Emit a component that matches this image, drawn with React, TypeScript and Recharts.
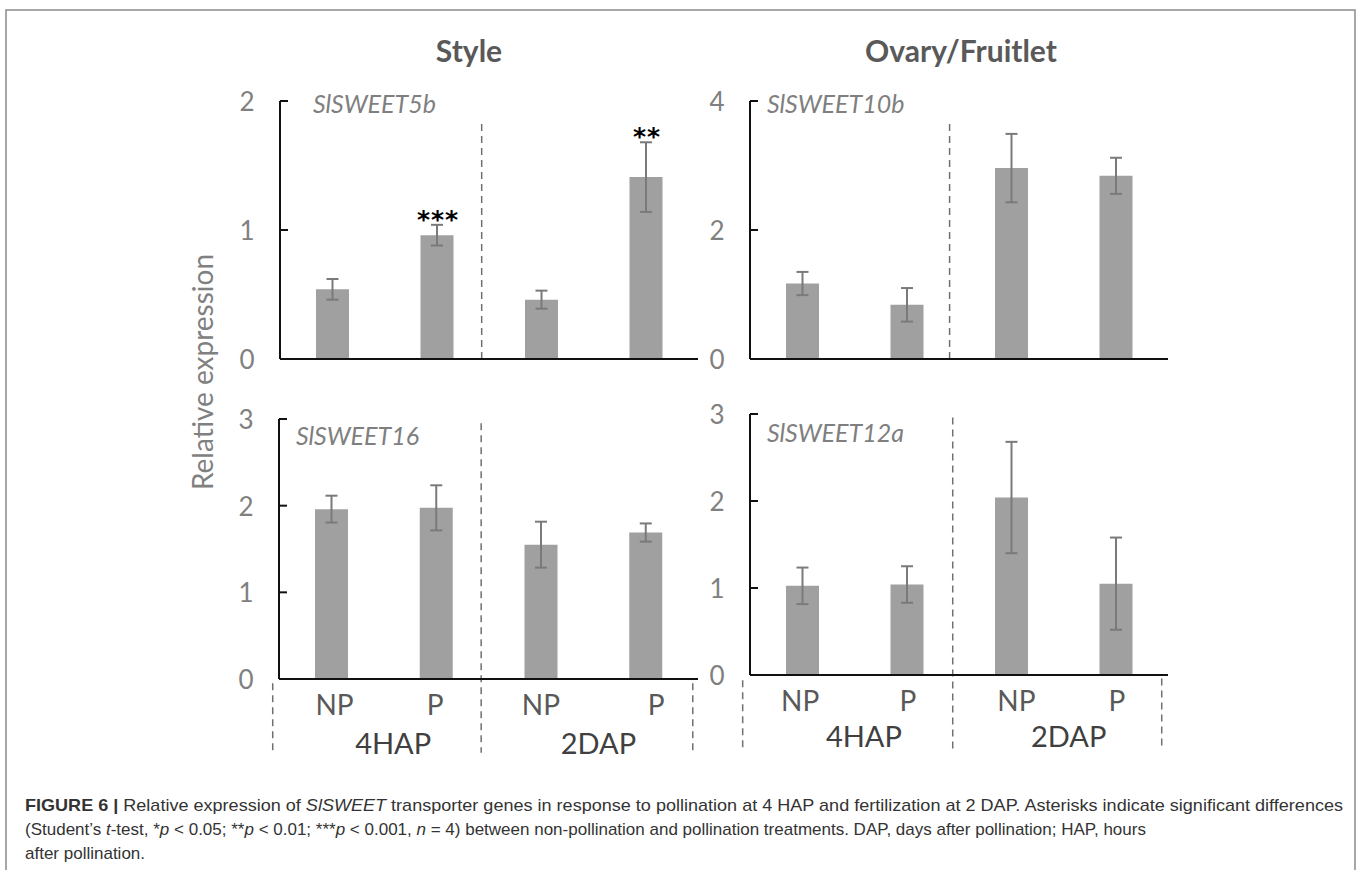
import React from "react";
import {
  Bar,
  BarChart,
  ErrorBar,
  LabelList,
  ReferenceDot,
  ReferenceLine,
  XAxis,
  YAxis,
} from "recharts";

// categorias (NP = não polinizado, P = polinizado)
const categories = ["NP", "P", "NP", "P"];
const groups = ["4HAP", "2DAP"];
const barPos = [0.5, 1.5, 2.5, 3.5];

// Style
const sweet5bMean = [0.54, 0.96, 0.46, 1.41];
const sweet5bErr = [0.08, 0.08, 0.07, 0.27];
const sweet5bSig = ["", "***", "", "**"];
const sweet16Mean = [1.96, 1.975, 1.55, 1.69];
const sweet16Err = [0.155, 0.26, 0.265, 0.105];

// Ovary/Fruitlet
const sweet10bMean = [1.17, 0.84, 2.96, 2.84];
const sweet10bErr = [0.18, 0.26, 0.53, 0.28];
const sweet12aMean = [1.025, 1.04, 2.04, 1.05];
const sweet12aErr = [0.21, 0.21, 0.64, 0.53];

const FONT = "Lato, 'Open Sans', sans-serif";
const AXIS = { stroke: "#111", strokeWidth: 2 };
const DASH = { stroke: "#707070", strokeWidth: 1.5, strokeDasharray: "7 5" };

const YTick = (props: any) => {
  const { x, y, payload } = props;
  return (
    <g>
      <line x1={x} x2={x + 8} y1={y} y2={y} stroke="#111" strokeWidth={2} />
      <text
        x={x - 33}
        y={y}
        textAnchor="middle"
        dominantBaseline="central"
        fontSize={26}
        fill="#808080"
        fontFamily={FONT}
      >
        {payload.value}
      </text>
    </g>
  );
};

interface PanelCfg {
  left: number;
  top: number;
  width: number;
  height: number;
  marginTop: number;
  yMax: number;
  yTicks: number[];
  mean: number[];
  err: number[];
  sig?: string[];
  seps: { x: number; y0: number; y1: number }[];
  labelPos?: number[];
  groupPos?: number[];
  groupY?: number;
}

const Panel = ({ cfg }: { cfg: PanelCfg }) => {
  const rows = barPos.map((x, i) => ({
    x,
    mean: cfg.mean[i],
    err: cfg.err[i],
    sig: cfg.sig ? cfg.sig[i] : "",
  }));
  const bottom = !!cfg.labelPos;

  // asteriscos logo acima da barra de erro
  const sigLabel = (p: any) => {
    const { x, y, width, height, value, index } = p;
    if (!value) return null;
    const ppu = Number(height) / rows[index].mean;
    const top = Number(y) - rows[index].err * ppu;
    return (
      <text
        x={Number(x) + Number(width) / 2 + 1}
        y={top + 3}
        textAnchor="middle"
        fontSize={25}
        fontWeight="bold"
        letterSpacing={1}
        fontFamily="'DejaVu Sans', sans-serif"
        fill="#000"
      >
        {value}
      </text>
    );
  };

  return (
    <div style={{ position: "absolute", left: cfg.left, top: cfg.top }}>
      <BarChart
        width={cfg.width}
        height={cfg.height}
        data={rows}
        margin={{ top: cfg.marginTop, right: 12, bottom: bottom ? 0 : 20, left: 0 }}
      >
        <XAxis
          dataKey="x"
          type="number"
          domain={[0, 4]}
          ticks={bottom ? cfg.labelPos : barPos}
          interval={0}
          tickFormatter={(v: number, i: number) => categories[i]}
          tick={bottom ? { fontSize: 28, fill: "#595959", fontFamily: FONT } : false}
          tickLine={false}
          tickSize={0}
          tickMargin={16}
          height={bottom ? 80 : 1}
          axisLine={AXIS}
        />
        <YAxis
          type="number"
          domain={[0, cfg.yMax]}
          ticks={cfg.yTicks}
          interval={0}
          width={80}
          tickLine={false}
          tickSize={0}
          tickMargin={0}
          axisLine={AXIS}
          tick={(p: any) => <YTick {...p} />}
        />
        {cfg.seps.map((s, i) => (
          <ReferenceLine
            key={`sep-${i}`}
            segment={[
              { x: s.x, y: s.y0 },
              { x: s.x, y: s.y1 },
            ]}
            ifOverflow="visible"
            {...DASH}
          />
        ))}
        {bottom &&
          cfg.groupPos!.map((gx, i) => (
            <ReferenceDot
              key={`grp-${i}`}
              x={gx}
              y={cfg.groupY}
              r={0}
              ifOverflow="visible"
              shape={(p: any) => (
                <text
                  x={p.cx}
                  y={p.cy}
                  textAnchor="middle"
                  dominantBaseline="central"
                  fontSize={29}
                  fill="#404040"
                  fontFamily={FONT}
                >
                  {groups[i]}
                </text>
              )}
            />
          ))}
        <Bar dataKey="mean" fill="#a0a0a0" barSize={33} isAnimationActive={false}>
          <ErrorBar
            dataKey="err"
            direction="y"
            width={6}
            stroke="#7a7a7a"
            strokeWidth={2}
            isAnimationActive={false}
          />
          {cfg.sig && <LabelList dataKey="sig" content={sigLabel} />}
        </Bar>
      </BarChart>
    </div>
  );
};

const panels: PanelCfg[] = [
  {
    left: 200, top: 80, width: 510, height: 300, marginTop: 21,
    yMax: 2, yTicks: [0, 1, 2], mean: sweet5bMean, err: sweet5bErr, sig: sweet5bSig,
    seps: [{ x: 1.93, y0: 0, y1: 1.84 }],
  },
  {
    left: 670, top: 80, width: 510, height: 300, marginTop: 21,
    yMax: 4, yTicks: [0, 2, 4], mean: sweet10bMean, err: sweet10bErr,
    seps: [{ x: 1.91, y0: 0, y1: 3.67 }],
  },
  {
    left: 199, top: 398, width: 511, height: 361, marginTop: 21,
    yMax: 3, yTicks: [0, 1, 2, 3], mean: sweet16Mean, err: sweet16Err,
    seps: [
      { x: 1.93, y0: 2.95, y1: -0.85 },
      { x: -0.06, y0: -0.05, y1: -0.85 },
      { x: 3.95, y0: -0.05, y1: -0.85 },
    ],
    labelPos: [0.53, 1.49, 2.5, 3.6],
    groupPos: [1.09, 3.05],
    groupY: -0.73,
  },
  {
    left: 670, top: 393, width: 510, height: 362, marginTop: 21,
    yMax: 3, yTicks: [0, 1, 2, 3], mean: sweet12aMean, err: sweet12aErr,
    seps: [
      { x: 1.94, y0: 2.96, y1: -0.89 },
      { x: -0.07, y0: -0.06, y1: -0.87 },
      { x: 3.94, y0: -0.04, y1: -0.85 },
    ],
    labelPos: [0.48, 1.51, 2.55, 3.51],
    groupPos: [1.09, 3.05],
    groupY: -0.7,
  },
];

const geneLabels = [
  { text: "SlSWEET5b", x: 313, y: 113 },
  { text: "SlSWEET10b", x: 767, y: 113 },
  { text: "SlSWEET16", x: 296, y: 445 },
  { text: "SlSWEET12a", x: 767, y: 442 },
];

const CAP = "'Liberation Sans', Arial, sans-serif";

export default function App() {
  return (
    <div
      style={{
        position: "absolute",
        left: 0,
        top: 0,
        width: 1358,
        height: 870,
        background: "#fff",
        overflow: "hidden",
      }}
    >
      <svg width={1358} height={870} style={{ position: "absolute", left: 0, top: 0 }}>
        <rect x={6} y={10} width={1349} height={870} fill="none" stroke="#8a8a8a" strokeWidth={1.5} />
        <text x={469} y={62} textAnchor="middle" fontSize={30} fontWeight="bold" fill="#595959" fontFamily={FONT}>
          Style
        </text>
        <text x={961} y={62} textAnchor="middle" fontSize={30} fontWeight="bold" fill="#595959" fontFamily={FONT}>
          Ovary/Fruitlet
        </text>
        <text
          x={202}
          y={372}
          transform="rotate(-90 202 372)"
          textAnchor="middle"
          dominantBaseline="central"
          fontSize={28}
          fill="#808080"
          fontFamily={FONT}
        >
          Relative expression
        </text>
        {geneLabels.map((g) => (
          <text key={g.text} x={g.x} y={g.y} fontSize={25} fontStyle="italic" fill="#7f7f7f" fontFamily={FONT}>
            {g.text}
          </text>
        ))}
        <text x={25} y={811} fontSize={17} fill="#333" fontFamily={CAP} textLength={1318} lengthAdjust="spacingAndGlyphs">
          <tspan fontWeight="bold">FIGURE 6 |</tspan>
          {" Relative expression of "}
          <tspan fontStyle="italic">SlSWEET</tspan>
          {" transporter genes in response to pollination at 4 HAP and fertilization at 2 DAP. Asterisks indicate significant differences"}
        </text>
        <text x={25} y={835} fontSize={17} fill="#333" fontFamily={CAP}>
          {"(Student\u2019s "}
          <tspan fontStyle="italic">t</tspan>
          {"-test, *"}
          <tspan fontStyle="italic">p</tspan>
          {" < 0.05; **"}
          <tspan fontStyle="italic">p</tspan>
          {" < 0.01; ***"}
          <tspan fontStyle="italic">p</tspan>
          {" < 0.001, "}
          <tspan fontStyle="italic">n</tspan>
          {" = 4) between non-pollination and pollination treatments. DAP, days after pollination; HAP, hours"}
        </text>
        <text x={25} y={859} fontSize={17} fill="#333" fontFamily={CAP}>
          after pollination.
        </text>
      </svg>
      {panels.map((p, i) => (
        <Panel key={i} cfg={p} />
      ))}
    </div>
  );
}
